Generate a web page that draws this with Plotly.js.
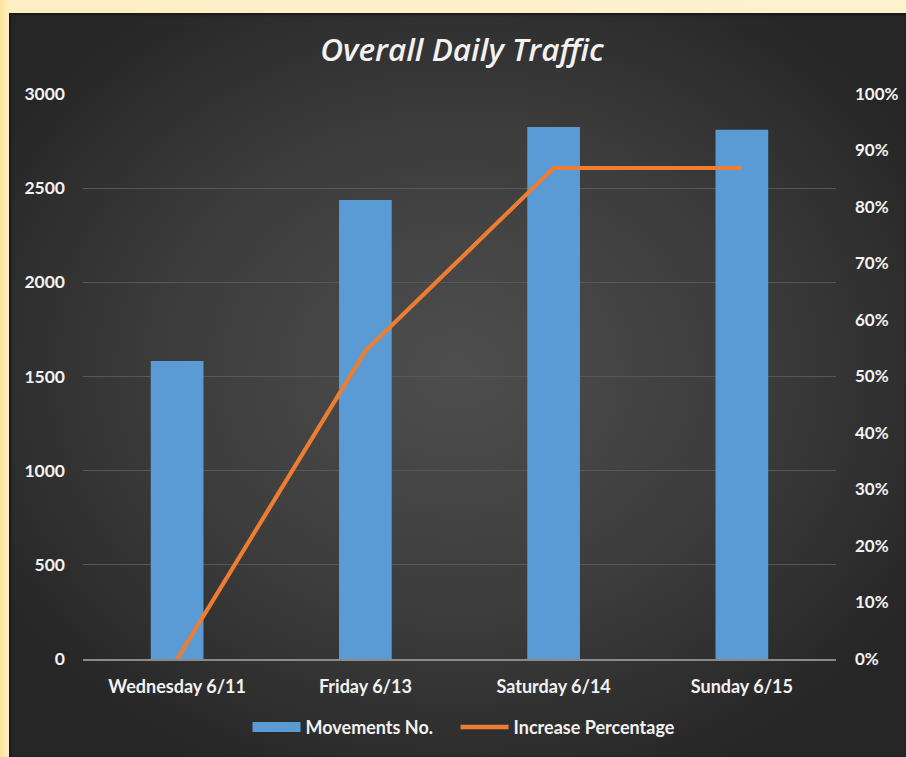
<!DOCTYPE html>
<html>
<head>
<meta charset="utf-8">
<script src="https://cdn.plot.ly/plotly-3.0.1.min.js"></script>
<style>
  html, body { margin:0; padding:0; width:906px; height:757px; overflow:hidden;
    background: linear-gradient(to right, #fde39a 0px, #fdeec4 9px, #fdf1d0 100%); }
  #frame { position:absolute; left:9px; top:13px; width:897px; height:744px;
    background: radial-gradient(ellipse 60% 60% at 50% 48%, #4e4e4e 0%, #3c3c3c 55%, #262626 100%);
    box-shadow: inset 0 2px 2px #1a1a1a, inset 2px 0 2px #1a1a1a; }
  #chart { position:absolute; left:0; top:0; width:897px; height:744px; }
</style>
</head>
<body>
<div id="frame"><div id="chart"></div></div>
<script>
const categories = ["Wednesday 6/11", "Friday 6/13", "Saturday 6/14", "Sunday 6/15"];
const movements = [1582, 2437, 2825, 2810];
const increasePct = [0, 0.545, 0.869, 0.869];
const leftTicks = [0, 500, 1000, 1500, 2000, 2500, 3000];
const rightTicks = [0, 0.1, 0.2, 0.3, 0.4, 0.5, 0.6, 0.7, 0.8, 0.9, 1.0];
const rightTickLabels = ["0%", "10%", "20%", "30%", "40%", "50%", "60%", "70%", "80%", "90%", "100%"];
const seriesNames = ["Movements No.", "Increase Percentage"];

const blue = "#5b9bd5";
const orange = "#ed7d31";
const txt = "#f2f2f2";
const fontFam = "Lato, 'Open Sans', sans-serif";

const traces = [
  { type: "bar", x: categories, y: movements, name: seriesNames[0],
    marker: { color: blue }, width: 0.28, showlegend: false, yaxis: "y", hoverinfo: "y" },
  { type: "scatter", mode: "lines", x: categories, y: increasePct, name: seriesNames[1],
    line: { color: orange, width: 4.2 }, yaxis: "y2", showlegend: false },
  { type: "scatter", mode: "lines", x: [null], y: [null], name: seriesNames[0] + "\u00a0\u00a0\u00a0\u00a0",
    line: { color: blue, width: 11 }, showlegend: true, yaxis: "y" },
  { type: "scatter", mode: "lines", x: [null], y: [null], name: seriesNames[1],
    line: { color: orange, width: 4.5 }, showlegend: true, yaxis: "y2" }
];

const layout = {
  width: 897, height: 744,
  paper_bgcolor: "rgba(0,0,0,0)", plot_bgcolor: "rgba(0,0,0,0)",
  margin: { l: 74, r: 70, t: 81, b: 98, autoexpand: false },
  font: { family: fontFam, color: txt, size: 14 },
  title: { text: "<i>Overall Daily Traffic</i>", x: 0.505, xanchor: "center", y: 0.95, yanchor: "middle",
    font: { family: "'Open Sans', sans-serif", size: 31.5, color: txt, weight: 600 } },
  xaxis: { type: "category", showgrid: false, zeroline: false, showline: true,
    linecolor: "#8a8a8a", linewidth: 2, ticks: "", ticklabelstandoff: 10,
    tickfont: { family: fontFam, size: 18, color: txt, weight: "bold" } },
  yaxis: { range: [0, 3000], tickvals: leftTicks, showgrid: true, gridcolor: "#575757", gridwidth: 1,
    zeroline: false, showline: false, ticks: "", ticklabelstandoff: 17,
    tickfont: { family: fontFam, size: 17.5, color: txt, weight: "bold" } },
  yaxis2: { overlaying: "y", side: "right", range: [0, 1], tickvals: rightTicks, ticktext: rightTickLabels,
    showgrid: false, zeroline: false, showline: false, ticks: "", ticklabelstandoff: 18,
    tickfont: { family: fontFam, size: 17, color: txt, weight: "bold" } },
  bargap: 0.72,
  legend: { orientation: "h", x: 0.506, xanchor: "center", y: -0.121, yanchor: "middle",
    font: { family: fontFam, size: 18, color: txt, weight: "bold" }, itemwidth: 48,
    bgcolor: "rgba(0,0,0,0)", traceorder: "normal" },
  showlegend: true
};

Plotly.newPlot("chart", traces, layout, { displayModeBar: false, staticPlot: true });
</script>
</body>
</html>
